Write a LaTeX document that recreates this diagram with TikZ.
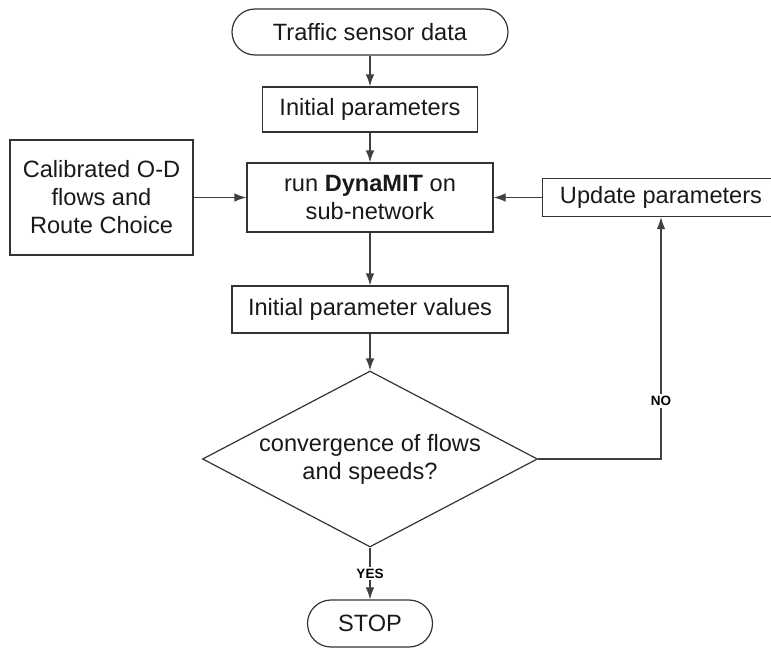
\documentclass[tikz,border=0pt]{standalone}
\usepackage{fontspec}
\setmainfont{Liberation Sans}
\usetikzlibrary{shapes.geometric,arrows.meta,positioning}

\begin{document}
\begin{tikzpicture}[
  font=\fontsize{23.6pt}{28pt}\selectfont,
  node distance=80pt
]

  \tikzstyle{procnode}=[draw=black!80,rectangle,line width=1.2pt,inner sep=2pt,align=center,text=black!90]
  \tikzstyle{termnode}=[procnode,rounded corners=23pt,minimum height=46pt]
  \tikzstyle{decnode}=[draw=black!80,diamond,aspect=1.9,line width=1.2pt,inner sep=0pt,align=center,text=black!90,minimum width=335pt,minimum height=176pt]
  \tikzstyle{anslab}=[fill=white,inner sep=2pt,font=\fontsize{13.5pt}{15pt}\selectfont\bfseries]
  \tikzstyle{pointer}=[draw=black!75,line width=1.2pt,-{Latex[length=12pt,width=8.5pt]}]

  \useasboundingbox (0pt,0pt) rectangle (771pt,-648pt);
  \clip (0pt,0pt) rectangle (771pt,-648pt);

  % nodes
  \node[termnode,minimum width=276pt] (sensor) at (370pt,-32pt) {Traffic sensor data};
  \node[procnode,minimum width=215pt,minimum height=45pt,node distance=77.5pt] (initpar) [below of=sensor] {Initial parameters};
  \node[procnode,minimum width=246pt,minimum height=69pt,node distance=88pt] (run) [below of=initpar] {run \textbf{DynaMIT} on\\sub-network};
  \node[procnode,minimum width=183pt,minimum height=115pt,node distance=268.5pt] (calib) [left of=run] {Calibrated O-D\\flows and\\Route Choice};
  \node[procnode,minimum width=237pt,minimum height=38pt,node distance=291pt] (update) [right of=run] {Update parameters};
  \node[procnode,minimum width=276pt,minimum height=47pt,node distance=112pt] (initval) [below of=run] {Initial parameter values};
  \node[decnode,node distance=149.5pt] (conv) [below of=initval] {convergence of flows\\and speeds?};
  \node[termnode,minimum width=125pt,minimum height=47pt,rounded corners=23.5pt,node distance=164.5pt] (stop) [below of=conv] {STOP};

  % pointers
  \draw[pointer] (sensor)  -- (initpar);
  \draw[pointer] (initpar) -- (run);
  \draw[pointer] (calib)   -- (run);
  \draw[pointer] (update)  -- (run);
  \draw[pointer] (run)     -- (initval);
  \draw[pointer] (initval) -- (conv);
  \draw[pointer] (conv)    -- node[anslab,pos=0.5]  {YES} (stop);
  \draw[pointer] (conv.east) -| node[anslab,pos=0.62] {NO} (update);

\end{tikzpicture}
\end{document}
